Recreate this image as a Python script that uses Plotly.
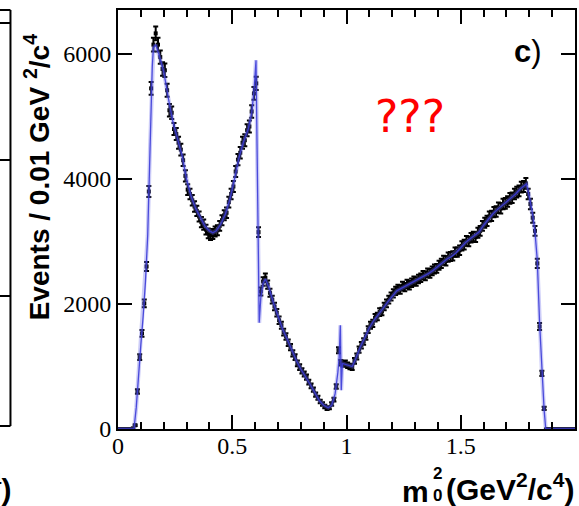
import numpy as np
import plotly.graph_objects as go

# ---------------- data ----------------
bin_width = 0.01
# events per 0.01 GeV^2/c^4 bin, bins starting at centre 0.005
events = [
    0, 0, 0, 0, 0, 0, 10,
    60, 600, 1150, 1530, 2010, 2600, 3800, 5450, 6150, 6330,
    6150, 5950, 5760, 5740, 5420, 5100, 5060, 4800, 4720, 4580,
    4470, 4300, 4050, 3830, 3760, 3660, 3560, 3490, 3400, 3310,
    3270, 3190, 3130, 3100, 3120, 3160, 3180, 3250, 3340, 3420,
    3460, 3630, 3760, 3880, 4120, 4310, 4420, 4580, 4620, 4780,
    4840, 5080, 5370, 5530, 3150, 2200, 2360, 2420, 2310, 2180,
    2070, 1960, 1860, 1740, 1660, 1550, 1480, 1380, 1310, 1210,
    1150, 1050, 990, 930, 880, 830, 750, 690, 630, 550,
    500, 440, 400, 360, 330, 340, 400, 470, 680, 1260,
    1060, 1040, 1050, 1020, 1000, 990, 1090, 1160, 1270, 1340,
    1400, 1480, 1590, 1660, 1690, 1780, 1800, 1870, 1880, 1960,
    2010, 2070, 2120, 2170, 2210, 2240, 2230, 2290, 2270, 2320,
    2300, 2340, 2370, 2360, 2400, 2420, 2460, 2450, 2500, 2490,
    2530, 2560, 2570, 2620, 2650, 2700, 2690, 2750, 2760, 2770,
    2830, 2830, 2860, 2930, 2950, 3010, 3000, 3060, 3080, 3070,
    3140, 3170, 3250, 3300, 3330, 3400, 3410, 3470, 3480, 3540,
    3530, 3600, 3610, 3640, 3690, 3700, 3760, 3790, 3810, 3870,
    3880, 3930, 3760, 3600, 3380, 3170, 2650, 1640, 890, 330,
    0, 0, 0, 0, 0, 0, 0, 0, 0, 0, 0, 0, 0,
]

# fit curve knots
fit_m2 = [
    0.0, 0.07, 0.08, 0.09, 0.10, 0.11, 0.12, 0.13, 0.14, 0.15, 0.155, 0.165,
    0.18, 0.20, 0.22, 0.24, 0.26, 0.28, 0.30, 0.32, 0.34, 0.36, 0.38, 0.40,
    0.415, 0.43, 0.45, 0.47, 0.49, 0.51, 0.53, 0.55, 0.57, 0.585, 0.595,
    0.604, 0.608, 0.612, 0.618, 0.625, 0.635, 0.645, 0.66, 0.68, 0.70, 0.72,
    0.74, 0.76, 0.78, 0.80, 0.82, 0.84, 0.86, 0.88, 0.90, 0.92, 0.935, 0.95,
    0.962, 0.968, 0.973, 0.977, 0.982, 1.00, 1.025, 1.04, 1.06, 1.08, 1.10,
    1.12, 1.14, 1.16, 1.18, 1.20, 1.22, 1.24, 1.26, 1.28, 1.30, 1.32, 1.34,
    1.36, 1.38, 1.40, 1.42, 1.44, 1.46, 1.48, 1.50, 1.52, 1.54, 1.56, 1.58,
    1.60, 1.62, 1.64, 1.66, 1.68, 1.70, 1.72, 1.74, 1.76, 1.78, 1.788, 1.80,
    1.815, 1.825, 1.835, 1.845, 1.855, 1.865, 1.872, 2.0,
]
fit_events = [
    0, 0, 350, 900, 1350, 1800, 2350, 3100, 4500, 5800, 6100, 6150,
    5980, 5720, 5300, 4920, 4650, 4380, 4000, 3720, 3530, 3380, 3250, 3170,
    3140, 3170, 3280, 3440, 3680, 4000, 4350, 4600, 4800, 5050, 5400,
    5900, 4500, 3000, 1700, 2100, 2330, 2400, 2270, 2020, 1800, 1600,
    1440, 1260, 1100, 960, 850, 720, 590, 460, 380, 340, 380, 560,
    900, 1150, 1660, 620, 1050, 1030, 1000, 1120, 1310, 1460, 1620,
    1740, 1830, 1930, 2030, 2120, 2210, 2250, 2290, 2320, 2360, 2400, 2450,
    2490, 2540, 2600, 2660, 2720, 2760, 2820, 2900, 2980, 3040, 3090, 3150,
    3260, 3360, 3440, 3510, 3570, 3630, 3690, 3760, 3840, 3900, 3920, 3720,
    3420, 3150, 2700, 1700, 900, 300, 0, 0,
]

x_ticks = [0, 0.5, 1, 1.5, 2]
x_tick_labels = ["0", "0.5", "1", "1.5", "2"]
y_ticks = [0, 2000, 4000, 6000]
y_tick_labels = ["0", "2000", "4000", "6000"]

# ---------------- figure ----------------
ev = np.array(events, dtype=float)
m2_centres = np.round(bin_width / 2 + bin_width * np.arange(len(ev)), 3)
ev_err = np.sqrt(ev) * 1.4

W, H = 579, 506
L, R, T, B = 118, 2, 10, 77
PW, PH = W - L - R, H - T - B


def px(xp):
    return (xp - L) / PW


def py(yp):
    return (H - B - yp) / PH


fig = go.Figure()
fig.add_trace(go.Scatter(
    x=m2_centres, y=ev, mode="markers",
    marker=dict(symbol="square", size=4, color="black"),
    error_y=dict(type="data", array=ev_err, visible=True, color="black",
                 thickness=2, width=2.5),
    hoverinfo="skip", showlegend=False,
))
fig.add_trace(go.Scatter(
    x=fit_m2, y=fit_events, mode="lines",
    line=dict(color="rgba(110,110,235,0.35)", width=4),
    hoverinfo="skip", showlegend=False,
))
fig.add_trace(go.Scatter(
    x=fit_m2, y=fit_events, mode="lines",
    line=dict(color="rgba(60,60,215,0.9)", width=1.3),
    hoverinfo="skip", showlegend=False,
))

axis_common = dict(
    showline=True, linecolor="black", linewidth=2, mirror="allticks",
    ticks="inside", tickcolor="black", tickwidth=2, ticklen=14,
    showgrid=False, zeroline=False,
    tickfont=dict(family="Liberation Serif", size=24, color="black"),
)
fig.update_xaxes(
    range=[0, 2], tickvals=x_ticks, ticktext=x_tick_labels,
    ticklabelstandoff=-6,
    minor=dict(dtick=0.1, ticklen=7, tickwidth=2, tickcolor="black", ticks="inside"),
    **axis_common,
)
fig.update_yaxes(
    range=[0, 6704], tickvals=y_ticks, ticktext=y_tick_labels,
    **axis_common,
)

annotations = [
    dict(text="<b>Events / 0.01 GeV <sup>2</sup>/c<sup>4</sup></b>", x=px(37), y=py(177),
         textangle=-90, font=dict(family="Liberation Sans", size=28, color="black"),
         xanchor="center", yanchor="middle"),
    dict(text="<b>m</b>", x=px(432), y=py(491), xanchor="right", yanchor="middle",
         font=dict(family="Liberation Sans", size=30, color="black")),
    dict(text="<b>2</b>", x=px(432), y=py(474), xanchor="left", yanchor="middle",
         font=dict(family="Liberation Sans", size=17, color="black")),
    dict(text="<b>0</b>", x=px(432), y=py(495), xanchor="left", yanchor="middle",
         font=dict(family="Liberation Sans", size=17, color="black")),
    dict(text="<b>(GeV<sup>2</sup>/c<sup>4</sup>)</b>", x=px(578), y=py(487),
         xanchor="right", yanchor="middle",
         font=dict(family="Liberation Sans", size=30, color="black")),
    dict(text="<b>c</b>)", x=px(546), y=py(52), xanchor="right", yanchor="middle",
         font=dict(family="Liberation Sans", size=31, color="black")),
    dict(text="???", x=px(411), y=py(116), xanchor="center", yanchor="middle",
         font=dict(family="DejaVu Sans", size=44, color="red")),
    dict(text="<b>c<sup>4</sup>)</b>", x=px(13), y=py(487), xanchor="right", yanchor="middle",
         font=dict(family="Liberation Sans", size=30, color="black")),
]
for a in annotations:
    a.update(xref="paper", yref="paper", showarrow=False)

shapes = []
line = dict(color="black", width=2)
shapes.append(dict(type="line", x0=px(10), x1=px(10), y0=py(10), y1=py(426), line=line))
shapes.append(dict(type="line", x0=px(-2), x1=px(10), y0=py(10), y1=py(10), line=line))
shapes.append(dict(type="line", x0=px(-2), x1=px(10), y0=py(426), y1=py(426), line=line))
for ty in (23, 160, 296):
    shapes.append(dict(type="line", x0=px(-2), x1=px(10), y0=py(ty), y1=py(ty), line=line))
for s in shapes:
    s.update(xref="paper", yref="paper")

fig.update_layout(
    width=W, height=H,
    margin=dict(l=L, r=R, t=T, b=B),
    paper_bgcolor="white", plot_bgcolor="white",
    showlegend=False,
    annotations=annotations,
    shapes=shapes,
)

fig.write_html("out.html")
